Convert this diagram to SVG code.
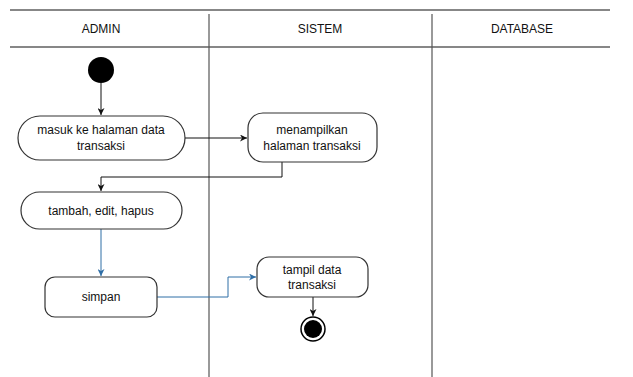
<svg xmlns="http://www.w3.org/2000/svg" width="633" height="377" viewBox="0 0 633 377">
<defs>
<style>
text{font-family:"Liberation Sans",Arial,sans-serif;font-size:12px;fill:#111;text-anchor:middle}
.node{fill:#fff;stroke:#333;stroke-width:1.2}
.lane{stroke:#555;stroke-width:1.2;fill:none}
.hdr{stroke:#111;stroke-width:1.2;fill:none}
.blk{stroke:#111;stroke-width:1;fill:none}
.blu{stroke:#2f6ea6;stroke-width:1;fill:none}
</style>
<marker id="ab" viewBox="0 0 10 10" refX="10" refY="5" markerWidth="7" markerHeight="7" orient="auto" markerUnits="userSpaceOnUse"><path d="M0,0 L10,5 L0,10 L3,5 z" fill="#111"/></marker>
<marker id="au" viewBox="0 0 10 10" refX="10" refY="5" markerWidth="7" markerHeight="7" orient="auto" markerUnits="userSpaceOnUse"><path d="M0,0 L10,5 L0,10 L3,5 z" fill="#2f6ea6"/></marker>
</defs>
<rect width="633" height="377" fill="#fff"/>
<g id="lanes">
<line class="hdr" x1="10" y1="10" x2="610" y2="10"/>
<line class="hdr" x1="10" y1="47" x2="610" y2="47"/>
<line class="lane" x1="209" y1="14" x2="209" y2="377"/>
<line class="lane" x1="432" y1="14" x2="432" y2="377"/>
<text x="101" y="33">ADMIN</text>
<text x="320" y="33">SISTEM</text>
<text x="522" y="33">DATABASE</text>
</g>
<g id="connectors">
<line class="blk" x1="101" y1="83" x2="101" y2="115" marker-end="url(#ab)"/>
<line class="blk" x1="185" y1="138" x2="247" y2="138" marker-end="url(#ab)"/>
<polyline class="blk" points="282,162 282,177 101,177 101,191" marker-end="url(#ab)"/>
<line class="blu" x1="101" y1="229" x2="101" y2="276" marker-end="url(#au)"/>
<polyline class="blu" points="157,297 228,297 228,277 256,277" marker-end="url(#au)"/>
<line class="blk" x1="313" y1="297" x2="313" y2="316" marker-end="url(#ab)"/>
</g>
<g id="start"><circle cx="101" cy="70" r="13" fill="#000"/></g>
<g id="n1"><rect class="node" x="18" y="116" width="167" height="44" rx="22"/><text x="101" y="134">masuk ke halaman data</text><text x="101" y="150">transaksi</text></g>
<g id="n2"><rect class="node" x="248" y="113" width="129" height="49" rx="15"/><text x="312" y="134">menampilkan</text><text x="312" y="150">halaman transaksi</text></g>
<g id="n3"><rect class="node" x="21" y="192" width="161" height="37" rx="18.5"/><text x="101" y="215">tambah, edit, hapus</text></g>
<g id="n4"><rect class="node" x="45" y="277" width="112" height="40" rx="10"/><text x="101" y="301">simpan</text></g>
<g id="n5"><rect class="node" x="257" y="257" width="111" height="40" rx="12"/><text x="312" y="274">tampil data</text><text x="312" y="289">transaksi</text></g>
<g id="end"><circle cx="313" cy="329" r="12" fill="#fff" stroke="#000" stroke-width="1.5"/><circle cx="313" cy="329" r="9" fill="#000"/></g>
</svg>
